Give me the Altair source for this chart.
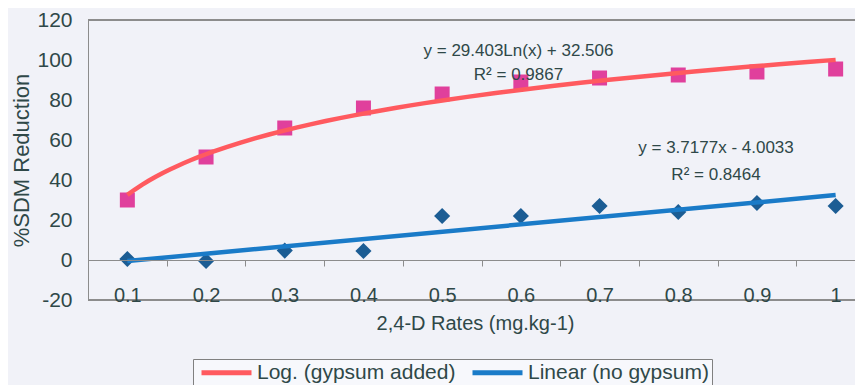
import altair as alt
import pandas as pd

# ---- data ----
rates = [0.1, 0.2, 0.3, 0.4, 0.5, 0.6, 0.7, 0.8, 0.9, 1.0]
gypsum_added = [30, 51.5, 66, 76, 83, 89, 91, 92.5, 94, 95.5]
no_gypsum = [0.5, -0.5, 4.7, 4.5, 22, 22, 27, 24, 28.5, 27]
series_names = ["Log. (gypsum added)", "Linear (no gypsum)"]
y_ticks = [-20, 0, 20, 40, 60, 80, 100, 120]
x_boundaries = [0.05, 0.15, 0.25, 0.35, 0.45, 0.55, 0.65, 0.75, 0.85, 0.95]
annotation_text = ["y = 29.403Ln(x) + 32.506", "R\u00b2 = 0.9867",
                   "y = 3.7177x - 4.0033", "R\u00b2 = 0.8464"]
annotation_x = [0.597, 0.597, 0.848, 0.848]
annotation_y = [104.7, 92.5, 56, 42.5]

FONT = "Liberation Sans"
TXT = "#2f4848"
GRID = "#8c8c8c"
RED = "#ff5a5f"
PINK = "#e0409c"
BLUE = "#1a7bc8"
DBLUE = "#1c5d94"

W, H = 767, 280
x_scale = alt.Scale(domain=[0.05, 0.05 + W / 787.0], nice=False, zero=False)
y_scale = alt.Scale(domain=[-20, 120], nice=False, zero=False)

df = pd.DataFrame({
    "rate": rates * 2,
    "value": gypsum_added + no_gypsum,
    "series": ["gypsum"] * len(rates) + ["none"] * len(rates),
})
ann = pd.DataFrame({"x": annotation_x, "y": annotation_y, "t": annotation_text})

base = alt.Chart(df)

x_axis = alt.Axis(
    values=x_boundaries, offset=-40, orient="bottom", zindex=1,
    labelExpr="format(datum.value + 0.05, '.1~f')",
    labelOffset=39.35, labelFlush=False, labelOverlap=False,
    tickSize=6, tickColor=GRID, domainColor=GRID, grid=False,
    labelFontSize=20, labelPadding=19, labelColor=TXT, labelFont=FONT,
    title="2,4-D Rates (mg.kg-1)", titleFontSize=20, titleFont=FONT,
    titleColor=TXT, titleFontWeight="normal", titlePadding=8, titleX=387,
)
y_axis = alt.Axis(
    values=y_ticks, ticks=False, tickSize=0, grid=False, domainColor=GRID,
    labelOverlap=False, labelFlush=False, labelExpr="datum.value + ''",
    labelFontSize=21, labelPadding=16, labelColor=TXT, labelFont=FONT,
    title="%SDM Reduction", titleFontSize=22, titleFont=FONT, titleColor=TXT,
    titleFontWeight="normal", titlePadding=3,
)


def X(field):
    return alt.X(field, scale=x_scale, axis=x_axis)


def Y(field):
    return alt.Y(field, scale=y_scale, axis=y_axis)


border_top = alt.Chart(df).mark_rule(color=GRID, strokeWidth=1).encode(
    y=alt.Y(datum=120, scale=y_scale, axis=y_axis))
border_bottom = alt.Chart(df).mark_rule(color=GRID, strokeWidth=1).encode(
    y=alt.Y(datum=-20, scale=y_scale, axis=y_axis))

squares = base.transform_filter(alt.datum.series == "gypsum").mark_point(
    shape="square", filled=True, size=225, color=PINK, opacity=1
).encode(x=X("rate:Q"), y=Y("value:Q"))
diamonds = base.transform_filter(alt.datum.series == "none").mark_point(
    shape="diamond", filled=True, size=260, color=DBLUE, opacity=1
).encode(x=X("rate:Q"), y=Y("value:Q"))

color_scale = alt.Scale(domain=series_names, range=[RED, BLUE])
legend = alt.Legend(
    title=None, orient="none", legendX=105, legendY=339, direction="horizontal",
    symbolType="M-1,0L9,0", symbolSize=100, symbolStrokeWidth=5,
    labelFontSize=21, labelFont=FONT, labelColor=TXT, labelOffset=40,
    labelLimit=400, columnPadding=6, padding=3,
    strokeColor="#808080", fillColor="#f7f8fc",
)

log_fit = base.transform_filter(alt.datum.series == "gypsum").transform_regression(
    "rate", "value", method="log", extent=[0.1, 1.0]
).transform_calculate(trend="'" + series_names[0] + "'").mark_line(
    strokeWidth=4.5
).encode(
    x=X("rate:Q"), y=Y("value:Q"),
    color=alt.Color("trend:N", scale=color_scale, legend=legend),
)
lin_fit = base.transform_filter(alt.datum.series == "none").transform_regression(
    "rate", "value", method="linear", extent=[0.1, 1.0]
).transform_calculate(trend="'" + series_names[1] + "'").mark_line(
    strokeWidth=4.5
).encode(
    x=X("rate:Q"), y=Y("value:Q"),
    color=alt.Color("trend:N", scale=color_scale, legend=legend),
)

labels = alt.Chart(ann).mark_text(
    font=FONT, fontSize=17, color=TXT, align="center", baseline="middle"
).encode(x=X("x:Q"), y=Y("y:Q"), text="t:N")

chart = alt.layer(
    squares, border_top, border_bottom, diamonds, log_fit, lin_fit, labels
).properties(
    width=W, height=H,
    autosize=alt.AutoSizeParams(type="none"),
    padding={"left": 80, "top": 12, "right": 0, "bottom": 85},
    background="#f1f2f8",
).configure_view(strokeWidth=0).configure_axisY(labelOverlap=False)

chart.save("out.html", embed_options={"renderer": "svg", "actions": False})
